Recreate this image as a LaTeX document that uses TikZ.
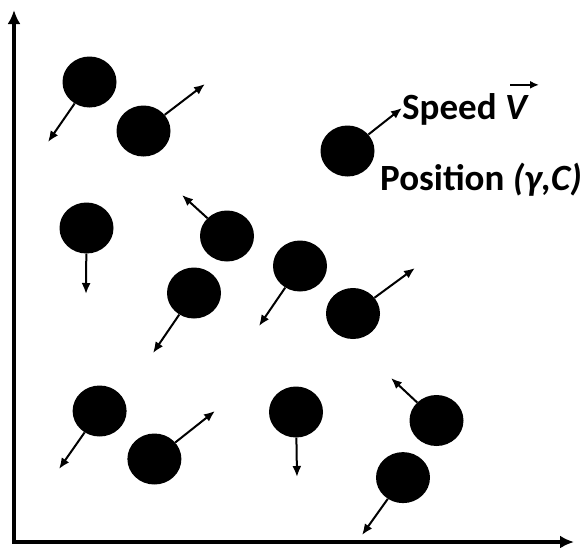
\documentclass[tikz,border=0pt]{standalone}
\usepackage{fontspec}
\setmainfont{Carlito}
\usepackage{tikz}
\usetikzlibrary{positioning,arrows.meta,shapes.geometric}

\tikzset{
  particle/.style={ellipse,fill=black,minimum width=54pt,minimum height=51pt,inner sep=0pt},
  velocity/.style={line width=2pt,-{Latex[length=11pt,width=9pt]}},
  vecmark/.style={line width=2pt,-{Latex[length=9pt,width=8pt]}},
  axis/.style={line width=4.5pt,{Latex[length=14pt,width=13pt]}-{Latex[length=14pt,width=13pt]}},
  label/.style={font=\fontsize{37}{40}\selectfont\bfseries,inner sep=0pt,anchor=base west}
}

\begin{document}
\begin{tikzpicture}[x=1pt,y=-1pt]
  \useasboundingbox (0,0) rectangle (584,547);
  % The two axes meet in the lower left corner
  \coordinate (origin) at (14,542);
  \coordinate (ytop) at (14,10);
  \coordinate (xend) at (574,542);
  \draw[axis] (ytop) -- (origin) -- (xend);
  % Each particle: centre x/y and the free end of its speed arrow
  \foreach \i/\x/\y/\vx/\vy in {
      1/89.5/82/48/142,
      2/143.5/131/205/84,
      3/347.5/151/402/108,
      4/86.5/228/86/294,
      5/227/236/182/195,
      6/300/266/259/326,
      7/194/293/153/353,
      8/353/313.5/415/268,
      9/99.6/411/59/469,
      10/154.4/459/215/411,
      11/296/412/297/477,
      12/436.5/420.5/391/378,
      13/403/477.6/362/535}
  {
    \node[particle] (p\i) at (\x,\y) {};
    \coordinate (v\i) at (\vx,\vy);
    \draw[velocity] (p\i) -- (v\i);
  }
  % Labels of the particle next to them
  \node[label] (speed) at (402,119) {Speed \textit{V}};
  \node[label] (position) at (380,190) {Position \textit{(γ,C)}};
  % vector mark over the V
  \coordinate (vecstart) at ([xshift=-19pt,yshift=8pt]speed.north east);
  \coordinate (vecend) at ([xshift=10pt,yshift=8pt]speed.north east);
  \draw[vecmark] (vecstart) -- (vecend);
\end{tikzpicture}
\end{document}
